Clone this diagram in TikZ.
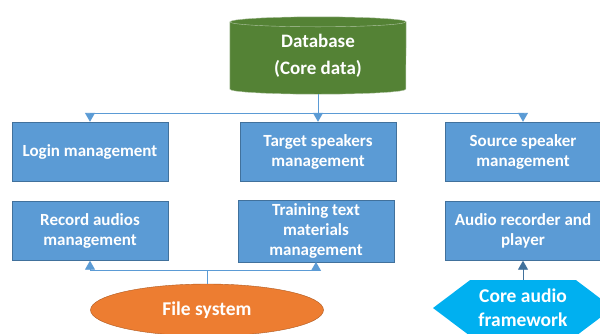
\documentclass[tikz,border=0pt]{standalone}
\usepackage{fontspec}
\setmainfont{Carlito}
\usetikzlibrary{arrows.meta,shapes.geometric,shapes.symbols,backgrounds}
\definecolor{boxblue}{HTML}{5B9BD5}
\definecolor{boxedge}{HTML}{41719C}
\definecolor{dbgreen}{HTML}{548235}
\definecolor{dbedge}{HTML}{B4C7A8}
\definecolor{fsorange}{HTML}{ED7D31}
\definecolor{fsedge}{HTML}{AE5A21}
\definecolor{corecyan}{HTML}{00B0F0}
\tikzset{
  modbox/.style={rectangle,fill=boxblue,draw=boxedge,minimum width=156pt,minimum height=59pt,
    align=center,text=white,font=\bfseries\fontsize{17}{20}\selectfont},
  link/.style={draw=boxblue,line width=0.9pt,-{Triangle[length=9pt,width=10pt]}},
  uplink/.style={link,draw=boxedge}
}
\begin{document}
\begin{tikzpicture}[x=1pt,y=-1pt]
\useasboundingbox (0,0) rectangle (600,333);
\clip (0,0) rectangle (600,333);
\node[text=white,font=\bfseries\fontsize{19}{27}\selectfont,align=center,minimum width=176pt,minimum height=77pt] (db) at (318,55.5) {Database\\(Core data)};
\begin{scope}[on background layer]
\draw[fill=dbgreen,draw=dbedge] ([yshift=-5pt]db.north west) -- ([yshift=5pt]db.south west)
  arc[start angle=180,end angle=360,x radius=88pt,y radius=5pt] -- ([yshift=-5pt]db.north east)
  arc[start angle=0,end angle=180,x radius=88pt,y radius=5pt] -- cycle;
\draw[dbedge] ([yshift=-5pt]db.north west) arc[start angle=180,end angle=360,x radius=88pt,y radius=5pt];
\end{scope}
\node[modbox] (login) at (90,151.5) {Login management};
\node[modbox] (target) at (318,151.5) {Target speakers\\management};
\node[modbox] (source) at (523,151.5) {Source speaker\\management};
\node[modbox] (record) at (90,231) {Record audios\\management};
\node[modbox] (training) at (316,231) {Training text\\materials\\management};
\node[modbox] (recorder) at (523,231) {Audio recorder and\\player};
\node[ellipse,fill=fsorange,draw=fsedge,minimum width=233pt,minimum height=52pt,text=white,
  font=\bfseries\fontsize{19.5}{23}\selectfont] (fs) at (207,310) {File system};
\node[signal,signal to=west and east,signal pointer angle=74,fill=corecyan,minimum width=180pt,
  minimum height=56pt,align=center,text=white,font=\bfseries\fontsize{19.5}{24}\selectfont] (core) at (523,308) {Core audio\\framework};
\coordinate (split) at (db.south |- 0,113);
\coordinate (fsjoin) at (fs.north |- 0,270);
\draw[link] (db.south) -- (target.north);
\draw[link] (split) -| (login.north);
\draw[link] (split) -| (source.north);
\draw[link,-] (fs.north) -- (fsjoin);
\draw[link] (fsjoin) -| (record.south);
\draw[link] (fsjoin) -| (training.south);
\draw[uplink] (core.north) -- (recorder.south);
\end{tikzpicture}
\end{document}
